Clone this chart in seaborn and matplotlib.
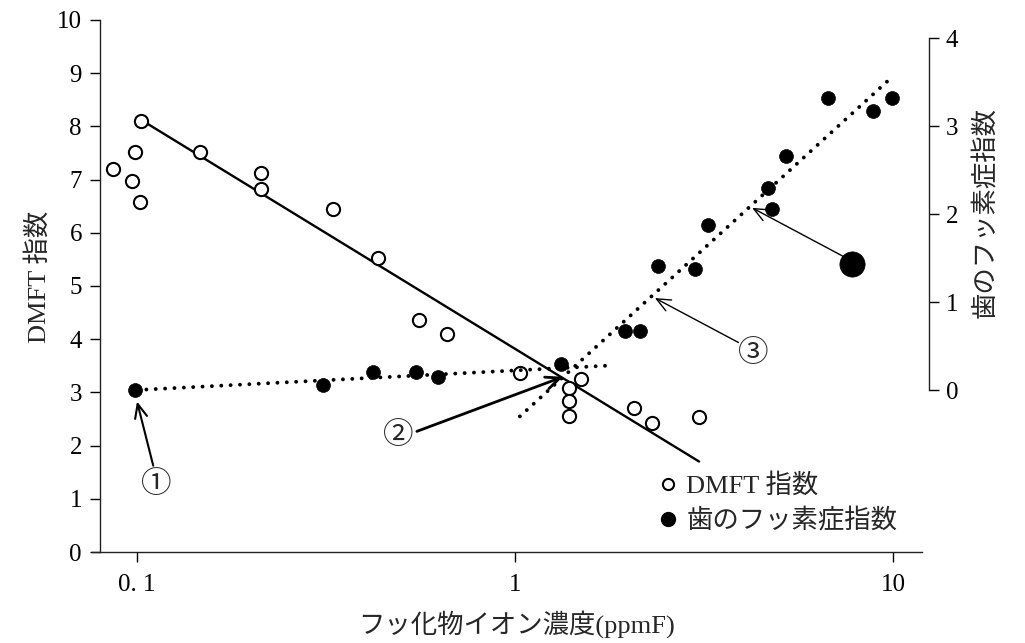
import matplotlib
matplotlib.use("Agg")
import matplotlib.pyplot as plt
from matplotlib.lines import Line2D
from matplotlib.ticker import NullLocator
import seaborn as sns
import pandas as pd

# DMFT index (left axis), open circles
dmft_x = [0.0866, 0.0968, 0.0988, 0.1018, 0.1025, 0.147, 0.2125, 0.2125, 0.330, 0.434,
          0.557, 0.661, 1.03, 1.495, 1.392, 1.392, 1.392, 2.065, 2.31, 3.07]
dmft_y = [7.19, 6.98, 7.52, 6.58, 8.11, 7.51, 7.12, 6.82, 6.45, 5.53,
          4.36, 4.10, 3.36, 3.25, 3.08, 2.83, 2.56, 2.70, 2.42, 2.53]

# dental fluorosis index (right axis), filled dots
fluor_x = [0.099, 0.310, 0.422, 0.546, 0.627, 1.324, 1.954, 2.14, 2.39, 2.99,
           3.24, 4.68, 4.79, 5.20, 6.74, 8.87, 9.93]
fluor_y = [0.0, 0.06, 0.20, 0.21, 0.15, 0.30, 0.67, 0.67, 1.41, 1.37,
           1.87, 2.30, 2.06, 2.66, 3.32, 3.17, 3.32]

# big marker with arrow
key_x = [7.78]
key_y = [1.43]

# fitted lines
dmft_fit_x = [0.106, 3.07]
dmft_fit_y = [8.06, 1.70]
low_fit_x = [0.1, 1.82]
low_fit_y = [0.0, 0.28]
high_fit_x = [1.03, 9.73]
high_fit_y = [-0.30, 3.52]

# annotations (right-axis coords): label, label pos, arrow tail, arrow tip, width
notes = [
    ("①", (0.1123, -1.07), (0.1104, -0.86), (0.1, -0.13), 1.5),
    ("②", (0.490, -0.52), (0.550, -0.47), (1.34, 0.15), 2.0),
    ("③", (4.26, 0.42), (3.90, 0.54), (2.345, 1.045), 1.0),
    ("", None, (7.45, 1.51), (4.24, 2.07), 1.0),
]

x_ticks = [0.1, 1, 10]
x_labels = ["0. 1", "1", "10"]
left_ticks = list(range(0, 11))
right_ticks = [0, 1, 2, 3, 4]

sns.set_theme(style="white")
plt.rcParams["font.family"] = ["Liberation Serif", "Noto Sans CJK JP"]
plt.rcParams["axes.unicode_minus"] = False

fig = plt.figure(figsize=(10.25, 6.43), dpi=100)
ax = fig.add_axes([0.0898, 0.14152, 0.8098, 0.82738])
ax2 = ax.twinx()

dmft = pd.DataFrame({"x": dmft_x, "y": dmft_y})
fluor = pd.DataFrame({"x": fluor_x, "y": fluor_y})

# lines
ax.plot(dmft_fit_x, dmft_fit_y, color="black", lw=1.7, zorder=2)
dot = (0, (0.01, 2.4))
ax2.plot(low_fit_x, low_fit_y, color="black", lw=2.8, ls=dot, dash_capstyle="round", zorder=2)
ax2.plot(high_fit_x, high_fit_y, color="black", lw=2.8, ls=dot, dash_capstyle="round", zorder=2)

sns.scatterplot(data=dmft, x="x", y="y", ax=ax, s=90, marker="o",
                facecolor="white", edgecolor="black", linewidth=1.5, zorder=3)
sns.scatterplot(data=fluor, x="x", y="y", ax=ax2, s=100, marker="o",
                color="black", edgecolor="black", linewidth=0.5, zorder=3)
sns.scatterplot(x=key_x, y=key_y, ax=ax2, s=330, marker="o",
                color="black", edgecolor="black", linewidth=0.5, zorder=3)

for text, pos, tail, tip, lw in notes:
    ax2.annotate("", xy=tip, xytext=tail,
                 arrowprops=dict(arrowstyle="->,head_length=0.5,head_width=0.22",
                                 mutation_scale=20, lw=lw, color="black",
                                 shrinkA=0, shrinkB=0))
    if text:
        ax2.text(pos[0], pos[1], text, ha="center", va="center", fontsize=22,
                 family=["Noto Sans CJK JP"])

ax.set_xscale("log")
ax.set_xlim(0.07604, 11.94)
ax.set_ylim(0, 10)
ax2.set_ylim(-1.841, 4.205)
ax.set_xticks(x_ticks)
ax.set_xticklabels(x_labels)
ax.xaxis.set_minor_locator(NullLocator())
ax.set_yticks(left_ticks)
ax2.set_yticks(right_ticks)
ax.set_xlabel("")
ax.set_ylabel("")
ax2.set_ylabel("")

for s in ["top", "right"]:
    ax.spines[s].set_visible(False)
for s in ["top", "left", "bottom"]:
    ax2.spines[s].set_visible(False)
ax.spines["left"].set_position(("axes", 0.00964))
ax2.spines["right"].set_position(("outward", 5))
ax2.spines["right"].set_bounds(0, 4)
for sp in [ax.spines["left"], ax.spines["bottom"], ax2.spines["right"]]:
    sp.set_color("#222222")
    sp.set_linewidth(1.0)

ax.tick_params(axis="y", direction="out", length=7, width=1, pad=6, labelsize=18, left=True, colors="black")
ax.tick_params(axis="x", direction="out", length=7, width=1, pad=9, labelsize=18, bottom=True, colors="black")
ax2.tick_params(axis="y", direction="out", length=7, width=1, pad=5, labelsize=18, right=True, colors="black")

fig.text(38 / 1025, 1 - 277 / 643, "DMFT 指数", rotation=90, ha="center", va="center", fontsize=19)
fig.text(985 / 1025, 1 - 212 / 643, "歯のフッ素症指数", rotation=90, ha="center", va="center", fontsize=19)
fig.text(517 / 1025, 1 - 624 / 643, "フッ化物イオン濃度(ppmF)", ha="center", va="center", fontsize=19)

handles = [
    Line2D([], [], marker="o", ls="none", mfc="white", mec="black", mew=1.5, ms=8, label="DMFT 指数"),
    Line2D([], [], marker="o", ls="none", mfc="black", mec="black", ms=10, label="歯のフッ素症指数"),
]
ax.legend(handles=handles, loc="upper left", bbox_to_anchor=(660 / 1025, 1 - 473 / 643),
          bbox_transform=fig.transFigure, frameon=False, borderpad=0, borderaxespad=0,
          handlelength=0.6, handletextpad=0.4, labelspacing=0.4, fontsize=19)

fig.savefig("out.png", dpi=100)
